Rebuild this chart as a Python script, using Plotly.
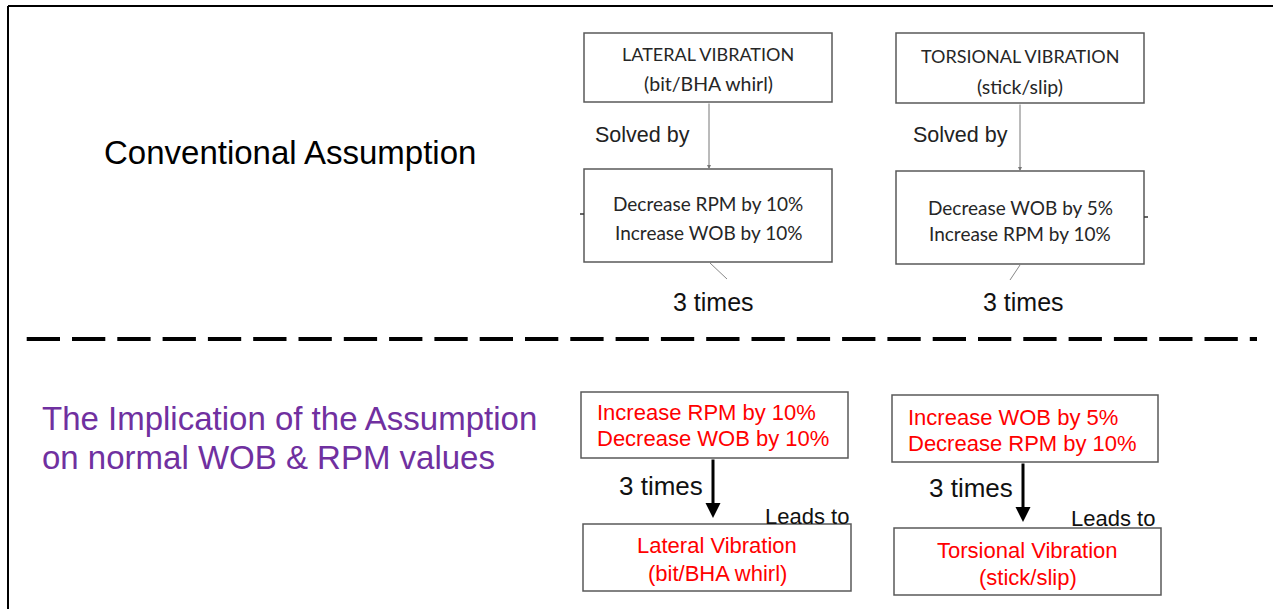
import plotly.graph_objects as go

# ---- content ----
heading_top = "Conventional Assumption"
heading_bottom = ["The Implication of the Assumption", "on normal WOB & RPM values"]

vib_titles = [["LATERAL VIBRATION", "(bit/BHA whirl)"], ["TORSIONAL VIBRATION", "(stick/slip)"]]
solve_actions = [["Decrease RPM by 10%", "Increase WOB by 10%"], ["Decrease WOB by 5%", "Increase RPM by 10%"]]
link_solved = "Solved by"
repeat_label = "3 times"
imp_actions = [["Increase RPM by 10%", "Decrease WOB by 10%"], ["Increase WOB by 5%", "Decrease RPM by 10%"]]
link_leads = "Leads to"
imp_results = [["Lateral Vibration", "(bit/BHA whirl)"], ["Torsional Vibration", "(stick/slip)"]]

# ---- layout geometry (pixels) ----
W, H = 1281, 609
top_box = [(584, 33, 832, 102), (896, 33, 1144, 103)]
act_box = [(584, 169, 832, 262), (896, 171, 1144, 264)]
imp_box = [(581, 392, 848, 458), (892, 395, 1158, 462)]
res_box = [(583, 524, 851, 591), (894, 528, 1161, 595)]

SANS = "Liberation Sans, Arial, sans-serif"
CAL = "Lato, Carlito, Calibri, sans-serif"
RED = "#FF0000"
PURPLE = "#7030A0"
BOXLINE = "#595959"
DARK = "#262626"

fig = go.Figure()
shapes = []
ann = []

def box(b, color=BOXLINE, w=1.5):
    shapes.append(dict(type="rect", xref="x", yref="y", x0=b[0], y0=b[1], x1=b[2], y1=b[3],
                       line=dict(color=color, width=w), fillcolor="white", layer="below"))

def txt(x, y, s, size, color="black", font=SANS, xanchor="center"):
    ann.append(dict(x=x, y=y, xref="x", yref="y", text=s, showarrow=False,
                    xanchor=xanchor, yanchor="middle",
                    font=dict(family=font, size=size, color=color)))

def arrow(x, y0, y1, color, width, head, size):
    ann.append(dict(x=x, y=y1, ax=x, ay=y0, xref="x", yref="y", axref="x", ayref="y",
                    text="", showarrow=True, arrowhead=head, arrowsize=size,
                    arrowwidth=width, arrowcolor=color, standoff=0, startstandoff=0))

# outer frame (top and left)
shapes.append(dict(type="line", xref="x", yref="y", x0=8, y0=6, x1=1273, y1=6,
                   line=dict(color="black", width=2)))
shapes.append(dict(type="line", xref="x", yref="y", x0=8, y0=6, x1=8, y1=609,
                   line=dict(color="black", width=2)))

# dashed separator
shapes.append(dict(type="line", xref="x", yref="y", x0=26.7, y0=339, x1=1257, y1=339,
                   line=dict(color="black", width=4, dash="33.3px,12px")))

# headings
txt(290, 152, heading_top, 33)
txt(40, 418, heading_bottom[0], 33, PURPLE, xanchor="left")
txt(40, 457, heading_bottom[1], 33, PURPLE, xanchor="left")

# top section
title_y = [(54, 83), (56, 86)]
act_y = [(203, 232), (207, 233)]
solved_x = [642, 960]
times_x = [713, 1023]
for i in range(2):
    tb, ab = top_box[i], act_box[i]
    box(tb)
    box(ab)
    cx = (tb[0] + tb[2]) / 2
    txt(cx, title_y[i][0], vib_titles[i][0], 18, DARK, CAL)
    txt(cx, title_y[i][1], vib_titles[i][1], 19.5, DARK, CAL)
    txt(cx, act_y[i][0], solve_actions[i][0], 19, DARK, CAL)
    txt(cx, act_y[i][1], solve_actions[i][1], 19, DARK, CAL)
    txt(solved_x[i], 135, link_solved, 21.5, "#222222")
    txt(times_x[i], 302, repeat_label, 25, "#111111")
    ax_ = 709 if i == 0 else 1020
    arrow(ax_, tb[3], ab[1], "#777777", 1, 2, 0.8)

# small connector strokes below action boxes
shapes.append(dict(type="line", xref="x", yref="y", x0=710, y0=263, x1=727, y1=279,
                   line=dict(color="#888888", width=1)))
shapes.append(dict(type="line", xref="x", yref="y", x0=1020, y0=265, x1=1010, y1=280,
                   line=dict(color="#888888", width=1)))
# tiny tick marks beside action boxes
shapes.append(dict(type="line", xref="x", yref="y", x0=580, y0=214, x1=584, y1=214,
                   line=dict(color="#333333", width=1.5)))
shapes.append(dict(type="line", xref="x", yref="y", x0=1144, y0=217, x1=1148, y1=217,
                   line=dict(color="#333333", width=1.5)))

# bottom section
imp_y = [(412, 438), (417, 443)]
imp_x = [595, 906]
res_y = [(545, 573), (550, 577)]
times2 = [(661, 486), (971, 488)]
leads = [(807, 516), (1113, 518)]
arr_x = [713, 1023]
for i in range(2):
    ib, rb = imp_box[i], res_box[i]
    box(ib)
    box(rb)
    txt(imp_x[i], imp_y[i][0], imp_actions[i][0], 22, RED, xanchor="left")
    txt(imp_x[i], imp_y[i][1], imp_actions[i][1], 22, RED, xanchor="left")
    cx = (rb[0] + rb[2]) / 2
    txt(cx, res_y[i][0], imp_results[i][0], 22, RED)
    txt(cx, res_y[i][1], imp_results[i][1], 22, RED)
    txt(times2[i][0], times2[i][1], repeat_label, 26, "#111111")
    txt(leads[i][0], leads[i][1], link_leads, 22, "#111111")
    arrow(arr_x[i], ib[3], rb[1] - 6, "black", 3, 2, 1.0)

fig.update_layout(
    width=W, height=H, autosize=False,
    margin=dict(l=0, r=0, t=0, b=0),
    paper_bgcolor="white", plot_bgcolor="white",
    xaxis=dict(range=[0, W], visible=False, fixedrange=True),
    yaxis=dict(range=[H, 0], visible=False, fixedrange=True),
    shapes=shapes, annotations=ann, showlegend=False,
)

fig.write_html("out.html", config={"displayModeBar": False},
               post_script="document.body.style.margin='0';document.body.style.overflow='hidden';")
